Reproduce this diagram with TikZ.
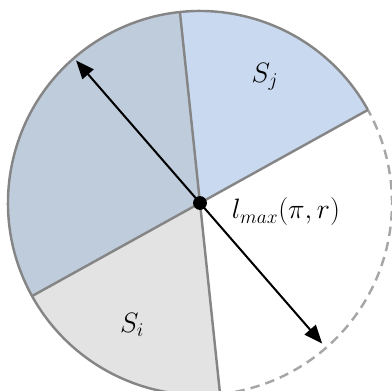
\documentclass[tikz,border=0pt]{standalone}
\usepackage{amsmath}
\usepackage{xcolor}
\usepackage{tikz}
\usetikzlibrary{arrows.meta}
\definecolor{sjblue}{HTML}{C9DAF0}
\definecolor{midblue}{HTML}{BFCCDB}
\definecolor{sigray}{HTML}{E3E3E3}
\definecolor{edgegray}{HTML}{858585}
\definecolor{dashgray}{HTML}{A6A6A6}

\begin{document}
\begin{tikzpicture}[>={Triangle[length=4.8mm,width=3.8mm]},
  edge/.style={edgegray,line width=1.8pt},
  lbl/.style={font=\fontsize{21.5}{26}\selectfont}]
\useasboundingbox(-5.208,-4.870)rectangle(5.0,5.286);
\def\R{5}
\coordinate(o)at(0,0);
\fill[sjblue](o)--(29:\R)arc[start angle=29,end angle=96,radius=\R]--cycle;
\fill[midblue](o)--(96:\R)arc[start angle=96,end angle=209,radius=\R]--cycle;
\fill[sigray](o)--(209:\R)arc[start angle=209,end angle=276,radius=\R]--cycle;
\draw[edge](29:\R)arc[start angle=29,end angle=276,radius=\R];
\draw[dashgray,line width=1.8pt,dash pattern=on 7pt off 4.5pt](276:\R)arc[start angle=276,end angle=389,radius=\R];
\draw[edge](29:\R)--(209:\R);
\draw[edge](96:\R)--(276:\R);
\coordinate(tl)at(131:4.92);
\coordinate(br)at(-49:4.85);
\draw[<->,line width=1.5pt](tl)--(br);
\node[circle,fill=black,inner sep=0pt,minimum size=0.36cm](dot)at(o){};
\node[lbl](sj)at(1.69,3.28){$S_j$};
\node[lbl](si)at(-1.77,-3.18){$S_i$};
\node[lbl](lmax)at(2.24,-0.23){$l_{max}(\pi,r)$};
\end{tikzpicture}
\end{document}
